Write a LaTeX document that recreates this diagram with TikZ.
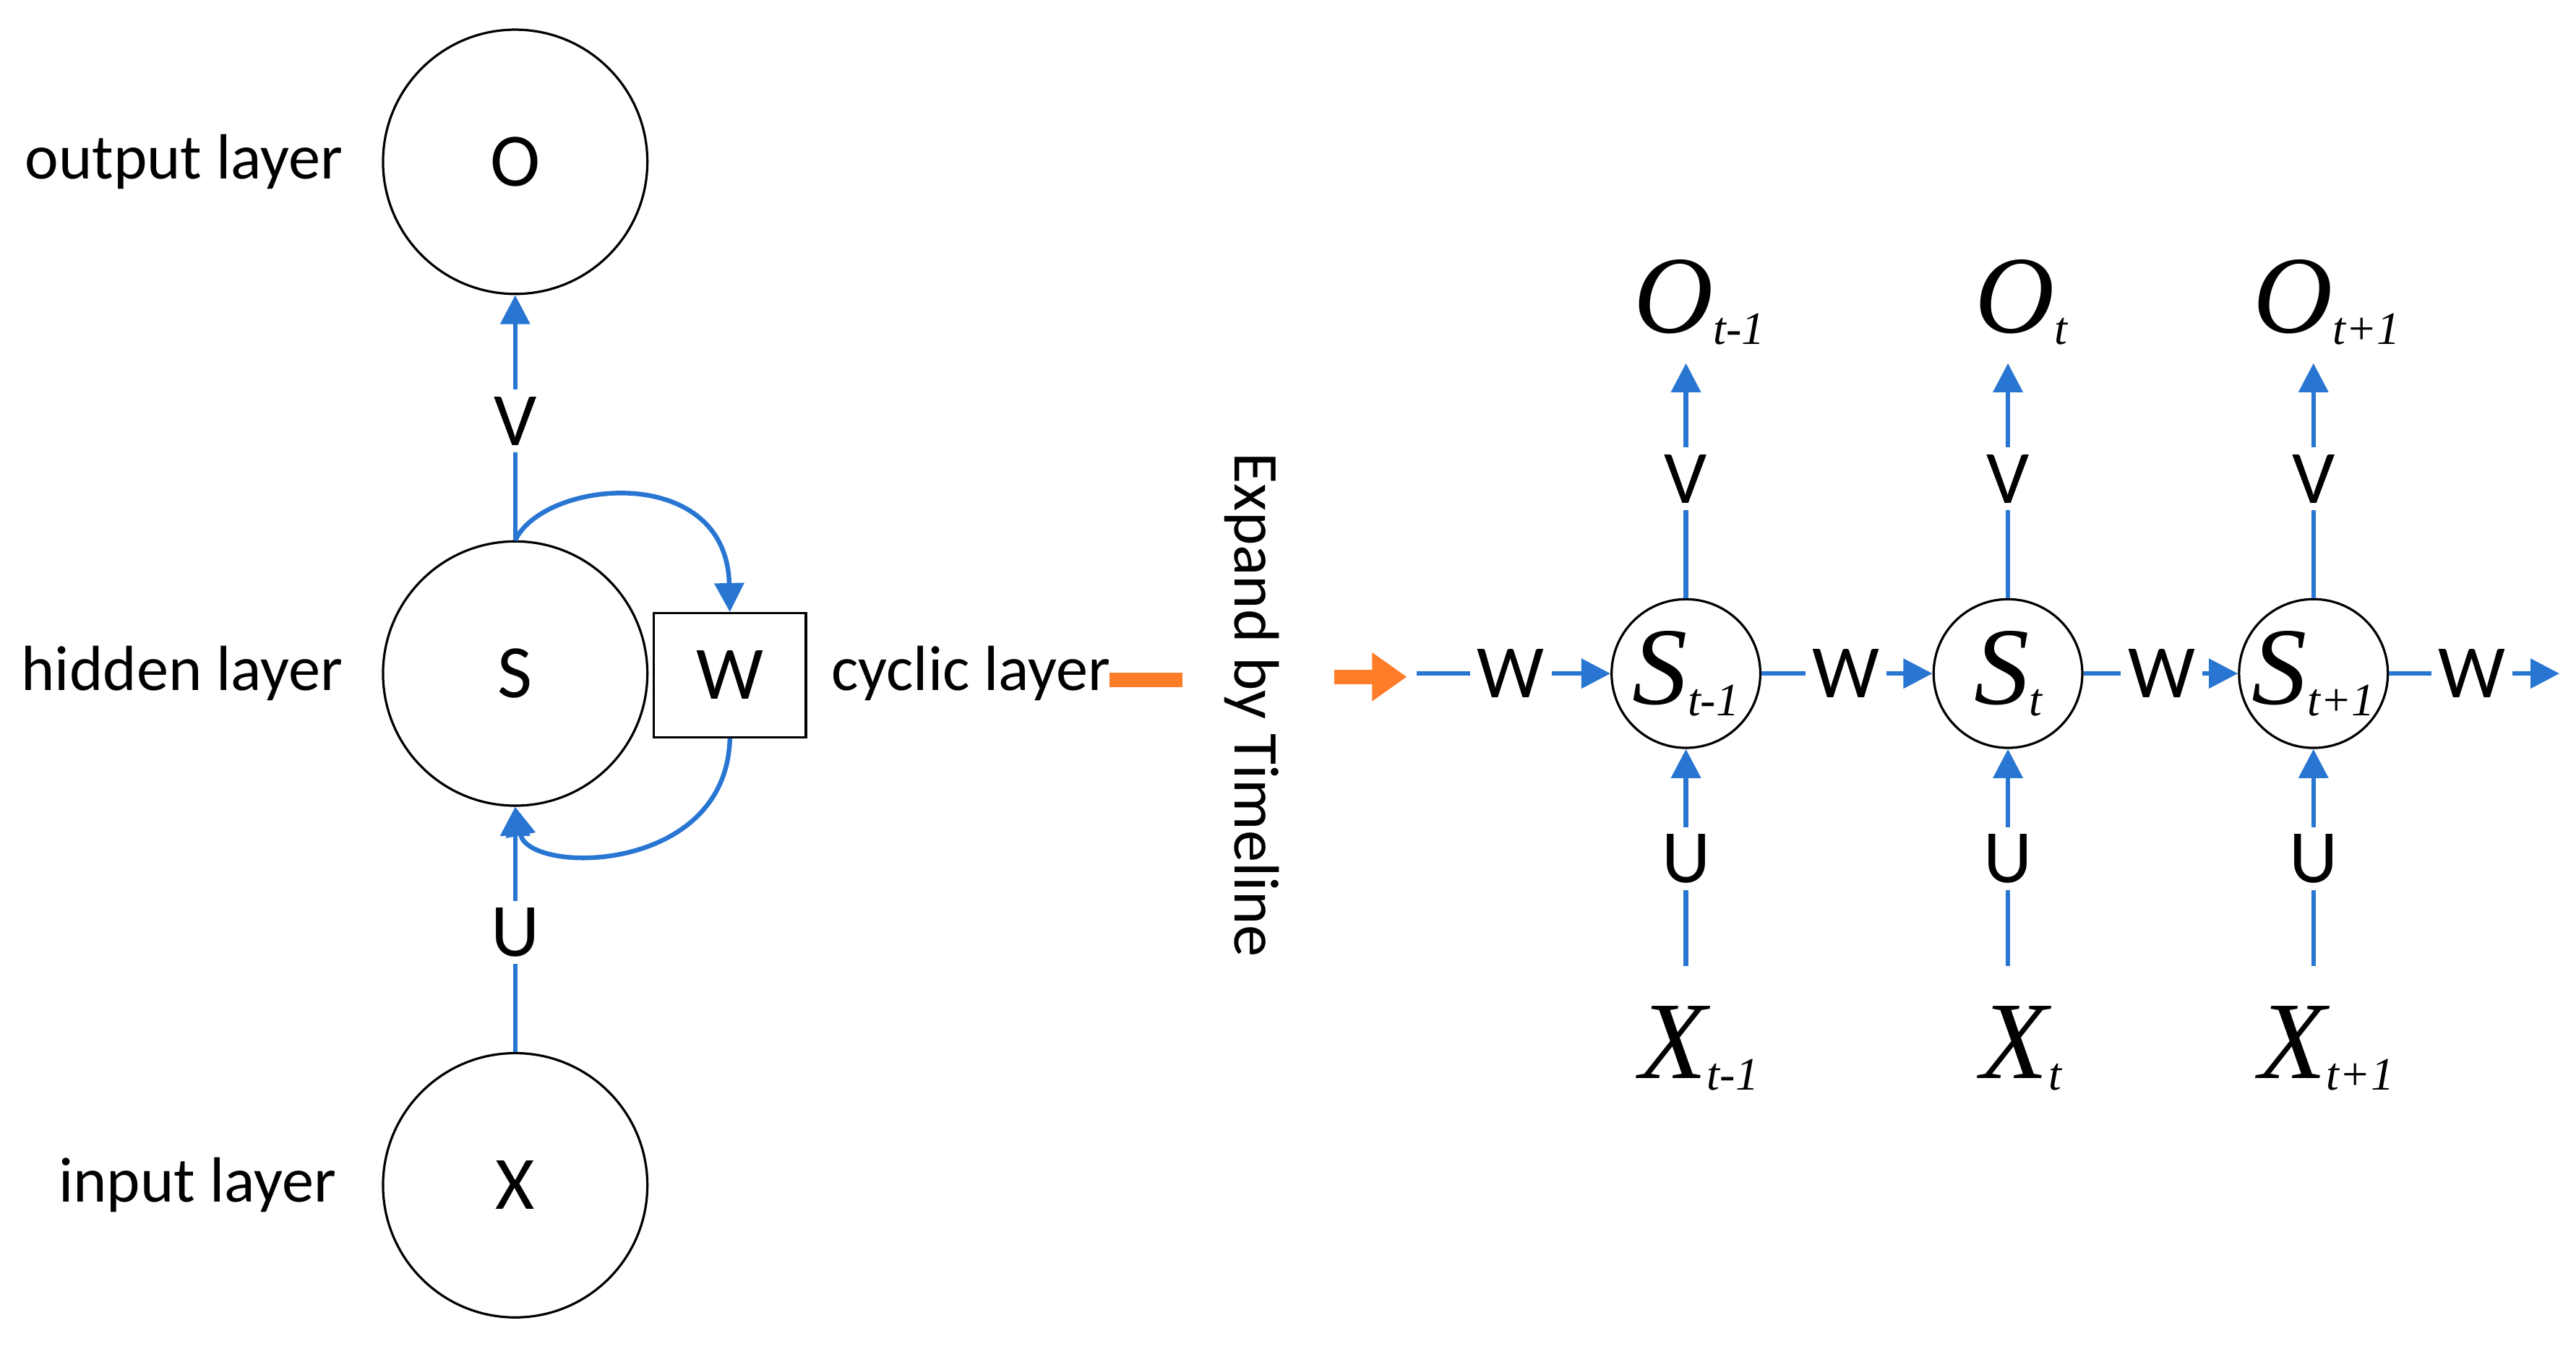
\documentclass[tikz,border=0pt]{standalone}
\usepackage{fontspec}
\setmainfont{Carlito}
\newfontfamily\timesfam{Liberation Serif}
\usetikzlibrary{arrows.meta}
\definecolor{rnnblue}{RGB}{40,118,210}
\definecolor{rnnorange}{RGB}{255,125,40}
\tikzset{
  big/.style={draw,circle,minimum size=1.6cm,inner sep=0pt,font=\fontsize{13}{15}\selectfont},
  small/.style={draw,circle,minimum size=0.9cm,inner sep=0pt},
  lbl/.style={font=\fontsize{11}{13}\selectfont},
  wt/.style={font=\fontsize{13}{15}\selectfont,inner sep=1pt},
  link/.style={rnnblue,line width=0.8pt},
  arr/.style={link,-{Triangle[length=5pt,width=5pt]}},
}
\newcommand{\tvar}[2]{{\timesfam\itshape\fontsize{19}{21}\selectfont #1}\raisebox{-2pt}{\timesfam\itshape\fontsize{8}{9}\selectfont #2}}
\begin{document}
\begin{tikzpicture}[x=0.01cm,y=-0.01cm]
\useasboundingbox (0,0) rectangle (1560,817);
% folded network
\node[big] (O) at (312,98) {O};
\node[big] (S) at (312,408) {S};
\node[big] (X) at (312,718) {X};
\node[draw,minimum width=0.92cm,minimum height=0.75cm,inner sep=0pt,font=\fontsize{13}{15}\selectfont] (Wb) at (442,409) {W};
\node[lbl,anchor=east] at (220,98) {output layer};
\node[lbl,anchor=east] at (220,408) {hidden layer};
\node[lbl,anchor=east] at (216,718) {input layer};
\node[lbl,anchor=west] at (491,408) {cyclic layer};
\node[wt] (V0) at (312,255) {V};
\node[wt] (U0) at (312,565) {U};
\draw[link] (S.north) -- (V0);
\draw[arr] (V0) -- (O.south);
\draw[link] (X.north) -- (U0);
\draw[arr] (U0) -- (S.south);
\draw[arr] (S.north) .. controls (330,290) and (440,280) .. (Wb.north);
\draw[arr] (Wb.south) .. controls (440,530) and (320,530) .. (S.south);
% expand
\coordinate (oa) at (672,412);
\coordinate (ob) at (716,412);
\coordinate (oc) at (808,410);
\coordinate (od) at (852,410);
\draw[rnnorange,line width=2.5pt] (oa) -- (ob);
\draw[rnnorange,line width=2.5pt,-{Triangle[length=6pt,width=8pt]}] (oc) -- (od);
\node[font=\fontsize{11}{13}\selectfont,rotate=-90] at (758,427) {Expand by Timeline};
% unfolded network
\foreach \i/\x/\s in {1/1021/{t-1},2/1216/{t},3/1401/{t+1}}{
  \node[small] (S\i) at (\x,408) {\tvar{S}{\s}};
  \node (O\i) at (\x+8,183) {\tvar{O}{\s}};
  \node (X\i) at (\x+8,635) {\tvar{X}{\s}};
  \node[wt] (V\i) at (\x,290) {V};
  \node[wt] (U\i) at (\x,520) {U};
  \draw[link] (S\i.north) -- (V\i);
  \draw[arr] (V\i) -- (\x,220);
  \draw[link] (\x,585) -- (U\i);
  \draw[arr] (U\i) -- (S\i.south);
}
\coordinate (w0) at (858,408);
\coordinate (w4) at (1550,408);
\node[wt] (W1) at (915,408) {W};
\node[wt] (W2) at (1118,408) {W};
\node[wt] (W3) at (1309,408) {W};
\node[wt] (W4) at (1497,408) {W};
\draw[link] (w0) -- (W1);
\draw[arr] (W1) -- (S1);
\draw[link] (S1) -- (W2);
\draw[arr] (W2) -- (S2);
\draw[link] (S2) -- (W3);
\draw[arr] (W3) -- (S3);
\draw[link] (S3) -- (W4);
\draw[arr] (W4) -- (w4);
\end{tikzpicture}
\end{document}
